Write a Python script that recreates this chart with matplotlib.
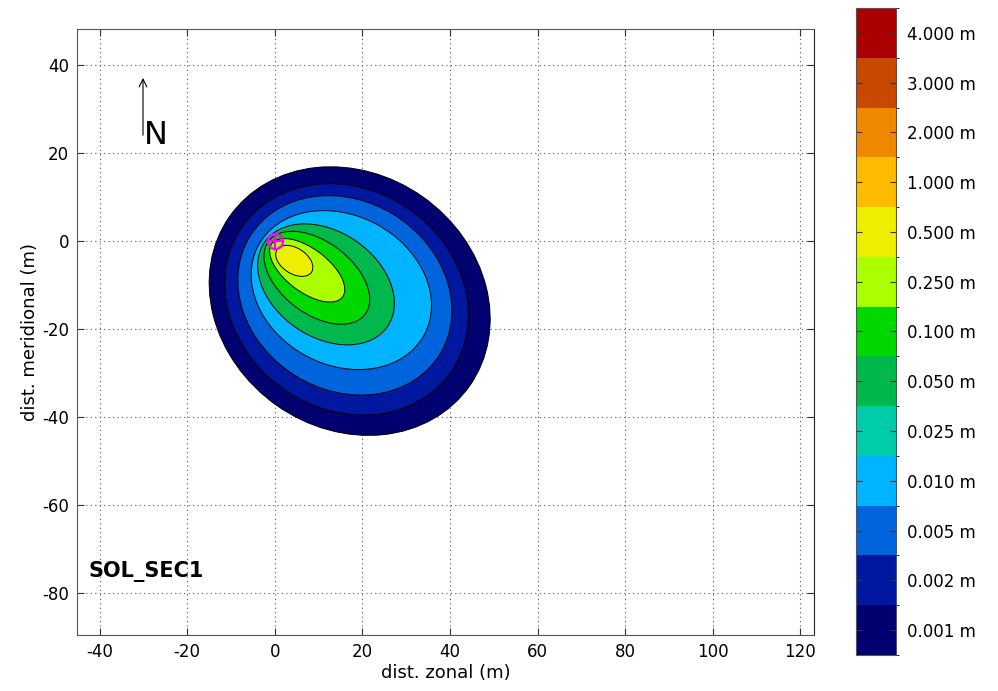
import matplotlib

matplotlib.use("Agg")

import matplotlib.pyplot as plt
import numpy as np
from matplotlib.colors import BoundaryNorm, ListedColormap
from matplotlib.colorbar import ColorbarBase
from matplotlib.patches import Ellipse

# colour scale (bottom -> top)
level_labels = ["0.001 m", "0.002 m", "0.005 m", "0.010 m", "0.025 m", "0.050 m", "0.100 m",
                "0.250 m", "0.500 m", "1.000 m", "2.000 m", "3.000 m", "4.000 m"]
level_colors = ["#000070", "#0018A0", "#0064DC", "#00B4FF", "#00CCAA", "#00B84C", "#00D800",
                "#AAFF00", "#EEEE00", "#FFBB00", "#EE8800", "#C84800", "#AA0000"]

# deposit contours, outer -> inner (index into level scale)
contour_level = [0, 1, 2, 3, 5, 6, 7, 8]
contour_cx = [17.1, 16.4, 16.0, 15.2, 11.7, 9.6, 7.4, 4.45]
contour_cy = [-13.6, -13.2, -12.3, -11.1, -9.8, -8.3, -6.6, -4.45]
contour_w = [67.0, 58.0, 51.0, 43.0, 34.0, 27.6, 20.2, 9.4]
contour_h = [58.0, 50.0, 43.0, 34.0, 24.0, 16.4, 9.8, 5.8]
contour_angle = [-35, -34, -32, -28, -34, -37, -37, -33]

vent_x, vent_y = 0.0, 0.0
x_ticks = [-40, -20, 0, 20, 40, 60, 80, 100, 120]
y_ticks = [-80, -60, -40, -20, 0, 20, 40]

plt.rcParams["font.family"] = ["DejaVu Sans"]
plt.rcParams["axes.unicode_minus"] = False

fig = plt.figure(figsize=(9.98, 6.91), dpi=100)
ax = fig.add_axes([77.3 / 998, 1 - 634.7 / 691, 737 / 998, 605.7 / 691])

for lev, cx, cy, w, h, ang in zip(contour_level, contour_cx, contour_cy, contour_w,
                                  contour_h, contour_angle):
    ax.add_patch(Ellipse((cx, cy), w, h, angle=ang, facecolor=level_colors[lev],
                         edgecolor="black", linewidth=0.7, zorder=2))

ax.plot(vent_x, vent_y, marker="o", markersize=11, markerfacecolor="none",
        markeredgecolor="#FF00FF", markeredgewidth=1.6, zorder=4)
ax.plot(vent_x, vent_y, marker="+", markersize=11, markeredgecolor="#FF00FF",
        markeredgewidth=1.6, zorder=4)

ax.set_xlim(-45.1, 123.2)
ax.set_ylim(-89.5, 48.3)
ax.set_xticks(x_ticks)
ax.set_yticks(y_ticks)
ax.tick_params(direction="in", top=True, right=True, length=5, labelsize=12,
               color="#333333", pad=6)
ax.grid(True, linestyle=(0, (1, 3)), color="#555555", linewidth=0.8, zorder=0)
ax.set_axisbelow(True)
for side in ax.spines.values():
    side.set_color("#555555")
ax.spines["right"].set_color("#222222")
ax.set_xlabel("dist. zonal (m)", fontsize=13, labelpad=2)
ax.set_ylabel("dist. meridional (m)", fontsize=13, labelpad=2)

# north arrow and label
ax.annotate("", xy=(-30.1, 37.8), xytext=(-30.1, 23.5),
            arrowprops=dict(arrowstyle="->", color="black", lw=0.8, mutation_scale=14))
ax.text(-27.2, 24.0, "N", fontsize=23, ha="center", va="center")
ax.text(-42.5, -75.2, "SOL_SEC1", fontsize=15, fontweight="bold", ha="left", va="center")

# colour bar
cax = fig.add_axes([856 / 998, 1 - 655 / 691, 40 / 998, 647 / 691])
n_levels = len(level_labels)
cmap = ListedColormap(level_colors)
norm = BoundaryNorm(np.arange(n_levels + 1), cmap.N)
cb = ColorbarBase(cax, cmap=cmap, norm=norm, orientation="vertical")
cb.set_ticks(np.arange(n_levels) + 0.5)
cb.set_ticklabels(level_labels)
cax.tick_params(direction="in", length=4, labelsize=12, color="#333333", pad=8,
                left=True, right=True)
cb.outline.set_edgecolor("#555555")

fig.savefig("out.png", dpi=100)
